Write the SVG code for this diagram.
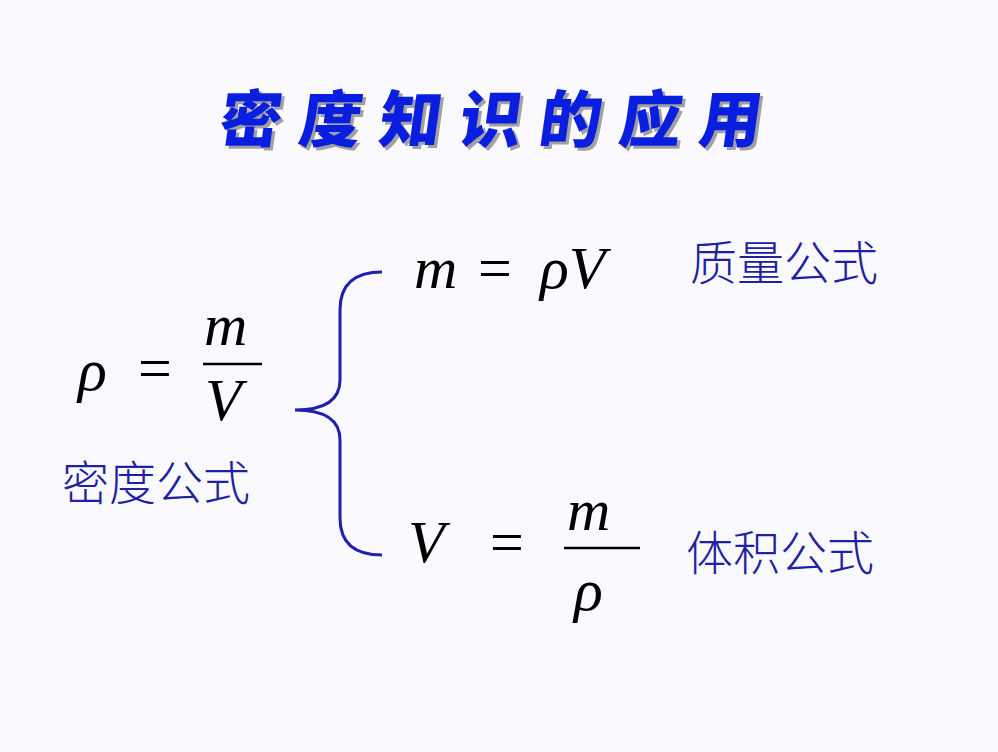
<svg xmlns="http://www.w3.org/2000/svg" width="998" height="752" viewBox="0 0 998 752">
<style>
.m{font-family:"Liberation Serif",serif;font-style:italic;fill:#000;font-size:60px}
.e{font-family:"Liberation Serif",serif;fill:#000;font-size:60px}
.c{font-family:"Noto Sans CJK SC",sans-serif;font-weight:300;fill:#2020a0;font-size:47px}
</style>
<rect width="998" height="752" fill="#f9f9fe"/>
<g id="title">
<text x="498" y="142" text-anchor="middle" font-family="Noto Sans CJK SC,sans-serif" font-weight="900" font-size="62" letter-spacing="18" fill="#000" opacity="0.35" transform="translate(3,3) skewX(-8) translate(19,0)">密度知识的应用</text>
<text x="498" y="142" text-anchor="middle" font-family="Noto Sans CJK SC,sans-serif" font-weight="900" font-size="62" letter-spacing="18" fill="#0a1ee0" transform="skewX(-8) translate(19,0)">密度知识的应用</text>
</g>
<g id="density">
<text class="m" x="78" y="390">ρ</text>
<text class="e" x="138" y="388">=</text>
<text class="m" x="204" y="345">m</text>
<line x1="203" y1="364" x2="262" y2="364" stroke="#000" stroke-width="2.5"/>
<text class="m" x="205" y="420">V</text>
<text class="c" x="62" y="500">密度公式</text>
</g>
<g id="mass">
<text class="m" x="414" y="288">m</text>
<text class="e" x="478" y="288">=</text>
<text class="m" x="540" y="288">ρV</text>
<text class="c" x="690" y="280">质量公式</text>
</g>
<g id="volume">
<text class="m" x="408" y="562">V</text>
<text class="e" x="490" y="562">=</text>
<text class="m" x="567" y="530">m</text>
<line x1="564" y1="548" x2="640" y2="548" stroke="#000" stroke-width="2.5"/>
<text class="m" x="574" y="610">ρ</text>
<text class="c" x="686" y="570">体积公式</text>
</g>
<g id="connectors">
<path d="M382 272 Q340 272 340 310 L340 380 Q340 410 295 410 Q340 410 340 440 L340 518 Q340 555 382 555" fill="none" stroke="#2020b0" stroke-width="3"/>
</g>
</svg>
